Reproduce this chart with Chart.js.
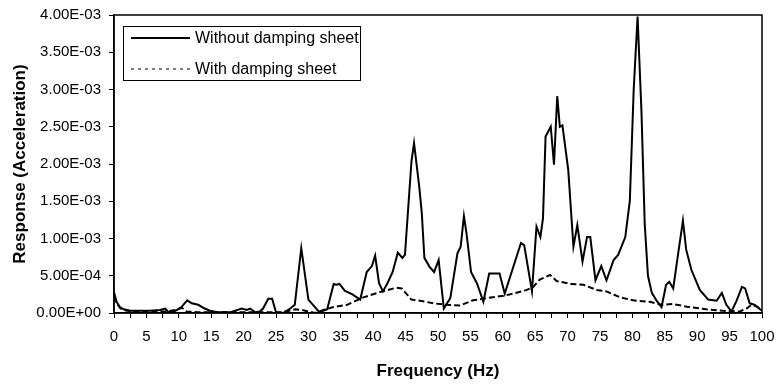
<!DOCTYPE html>
<html>
<head>
<meta charset="utf-8">
<script src="https://cdn.jsdelivr.net/npm/chart.js@4.4.0/dist/chart.umd.min.js"></script>
<style>
  html, body { margin: 0; padding: 0; background: #fff; }
  #wrap { width: 777px; height: 384px; }
</style>
</head>
<body>
<div id="wrap"><canvas id="chart" width="777" height="384"></canvas></div>
<script>
// Without damping sheet (frequency in Hz, response)
const freqWithout = [0, 0.4, 0.9, 1.5, 2.5, 4, 5.5, 7.1, 7.9, 8.4, 9.5, 10.4, 11.3, 12, 13, 14, 14.8, 16, 18, 19.7,
  20.5, 21, 21.8, 22.5, 23, 23.8, 24.4, 25, 26.1, 27.2, 27.9, 28.9, 30, 30.5, 31.7, 32.9, 33.9, 34.3, 34.8, 35.6,
  36.8, 38, 39, 39.8, 40.3, 40.9, 41.5, 42.2, 43, 43.8, 44.5, 44.9, 45.9, 46.3, 47.1, 47.5, 47.9, 48.7, 49.4, 50.1,
  50.9, 51.9, 53, 53.5, 54, 54.4, 55.1, 56, 57, 57.9, 59.5, 60.3, 62.8, 63.3, 64.5, 65.2, 65.8, 66.2, 66.6, 67.4,
  67.9, 68.4, 68.8, 69.2, 70.1, 70.9, 71.5, 72.3, 73, 73.5, 74.3, 75.2, 76, 77.1, 77.8, 78.9, 79.6, 80.2, 80.8, 81.4,
  81.9, 82.4, 83, 83.7, 84.5, 85.2, 85.7, 86.3, 87, 87.8, 88.3, 89.1, 90.4, 91.7, 93, 93.8, 94.5, 95.3, 96.1, 96.9,
  97.4, 98.1, 98.9, 99.7, 100];
const respWithout = [2.8e-4, 1.5e-4, 8e-5, 5e-5, 3e-5, 3e-5, 3e-5, 4e-5, 6e-5, 1e-5, 3e-5, 8e-5, 1.7e-4, 1.3e-4, 1.1e-4, 6e-5, 3e-5, 1e-5, 1e-5, 6e-5,
  4e-5, 6e-5, 1e-5, 2e-5, 6e-5, 1.9e-4, 1.9e-4, 1e-5, 0, 6e-5, 1.1e-4, 8.7e-4, 1.8e-4, 1.3e-4, 1e-5, 5e-5, 3.9e-4, 3.8e-4, 3.9e-4, 3e-4,
  2.5e-4, 1.8e-4, 5.5e-4, 6.3e-4, 7.7e-4, 4e-4, 2.9e-4, 4e-4, 5.5e-4, 8.1e-4, 7.4e-4, 7.8e-4, 2.03e-3, 2.28e-3, 1.7e-3, 1.34e-3, 7.4e-4, 6.2e-4, 5.5e-4, 7.1e-4,
  6e-5, 2e-4, 8e-4, 8.9e-4, 1.3e-3, 1.07e-3, 5.5e-4, 4e-4, 1.5e-4, 5.3e-4, 5.3e-4, 2.6e-4, 9.4e-4, 9.1e-4, 2.9e-4, 1.16e-3, 1.02e-3, 1.27e-3, 2.37e-3, 2.5e-3,
  1.99e-3, 2.91e-3, 2.5e-3, 2.52e-3, 1.92e-3, 8.9e-4, 1.18e-3, 6.9e-4, 1.02e-3, 1.02e-3, 4.4e-4, 6.3e-4, 4.4e-4, 7.1e-4, 7.8e-4, 1.02e-3, 1.5e-3, 3.0e-3, 3.98e-3, 2.7e-3,
  1.2e-3, 5e-4, 2.7e-4, 1.7e-4, 8e-5, 3.8e-4, 4.2e-4, 3.3e-4, 7.6e-4, 1.24e-3, 8.5e-4, 5.8e-4, 3.1e-4, 1.8e-4, 1.65e-4, 2.7e-4, 1.1e-4, 2e-5, 1.7e-4, 3.5e-4,
  3.3e-4, 1.3e-4, 1.1e-4, 5e-5, 3e-5];

// With damping sheet
const freqWith = [0, 0.4, 1, 2, 4, 6, 8, 9.5, 10.5, 11.2, 13, 16, 20, 24, 26, 28, 29, 31, 32.3, 33.9,
  36, 38.5, 41, 43.6, 44.4, 45.9, 47.2, 49.3, 51.3, 53.4, 55.4, 57.5, 60.1, 61.6, 63.7, 64.7, 65.7, 67.3, 68.3, 70.4,
  72.4, 74.5, 76, 78.1, 80.1, 82.7, 84.5, 86.3, 88.4, 91.4, 94, 96.6, 97.6, 98.4, 99.2, 100];
const respWith = [2.2e-4, 1.3e-4, 6e-5, 3e-5, 2e-5, 2e-5, 2e-5, 4e-5, 7e-5, 2e-5, 1e-5, 1e-5, 1e-5, 1e-5, 1e-5, 5e-5, 4e-5, 0, 4e-5, 8e-5,
  1.1e-4, 2.1e-4, 2.8e-4, 3.4e-4, 3.3e-4, 1.8e-4, 1.65e-4, 1.3e-4, 1.1e-4, 1e-4, 1.7e-4, 2e-4, 2.3e-4, 2.6e-4, 3.1e-4, 3.5e-4, 4.5e-4, 5.1e-4, 4.3e-4, 3.9e-4,
  3.8e-4, 3.1e-4, 2.9e-4, 2.1e-4, 1.7e-4, 1.5e-4, 1.1e-4, 1.2e-4, 8.5e-5, 5e-5, 3e-5, 2e-5, 6e-5, 1.1e-4, 8.5e-5, 4e-5];

const seriesLabels = ['Without damping sheet', 'With damping sheet'];

const FONT = 'Arial, "Liberation Sans", sans-serif';

function sciLabel(v) {
    if (v === 0) return '0.00E+00';
    const [m, e] = v.toExponential(2).split('e');
    const n = parseInt(e, 10);
    return m + 'E' + (n < 0 ? '-' : '+') + String(Math.abs(n)).padStart(2, '0');
}

// frame around the plot area
const framePlugin = {
    id: 'frame',
    afterDatasetsDraw(chart) {
        const a = chart.chartArea, ctx = chart.ctx;
        ctx.save();
        ctx.strokeStyle = '#000';
        ctx.lineWidth = 1.5;
        ctx.strokeRect(a.left, a.top, a.right - a.left, a.bottom - a.top);
        ctx.restore();
    }
};

// boxed legend inside the plot, like the original
const boxLegend = {
    id: 'boxLegend',
    afterDraw(chart) {
        const ctx = chart.ctx;
        const x = 123, y = 26, w = 237, h = 54;
        ctx.save();
        ctx.fillStyle = '#fff';
        ctx.fillRect(x, y, w, h);
        ctx.strokeStyle = '#000';
        ctx.lineWidth = 1;
        ctx.strokeRect(x + 0.5, y + 0.5, w, h);
        ctx.font = '16px ' + FONT;
        ctx.textBaseline = 'middle';
        chart.data.datasets.forEach((ds, i) => {
            const ly = y + 12 + i * 31;
            ctx.beginPath();
            ctx.setLineDash(i === 0 ? [] : [3, 4]);
            ctx.lineWidth = i === 0 ? 2 : 1;
            ctx.moveTo(131, ly);
            ctx.lineTo(190, ly);
            ctx.stroke();
            ctx.setLineDash([]);
            ctx.fillStyle = '#000';
            ctx.fillText(ds.label, 195, ly + 1);
        });
        ctx.restore();
    }
};

new Chart(document.getElementById('chart').getContext('2d'), {
    type: 'line',
    data: {
        datasets: [{
            label: seriesLabels[0],
            data: freqWithout.map((f, i) => ({ x: f, y: respWithout[i] })),
            borderColor: '#000',
            borderWidth: 2,
            pointRadius: 0,
            tension: 0,
            fill: false
        }, {
            label: seriesLabels[1],
            data: freqWith.map((f, i) => ({ x: f, y: respWith[i] })),
            borderColor: '#000',
            borderWidth: 2,
            borderDash: [6, 3],
            pointRadius: 0,
            tension: 0,
            fill: false
        }]
    },
    options: {
        responsive: false,
        animation: false,
        layout: { padding: { left: 0, right: 15, top: 15, bottom: 0 } },
        plugins: {
            legend: { display: false },
            title: { display: false },
            tooltip: { enabled: false }
        },
        scales: {
            x: {
                type: 'linear',
                min: 0,
                max: 100,
                afterFit: s => { s.height = 71; s.paddingRight = 12; s.paddingLeft = 0; },
                grid: { drawOnChartArea: false, color: '#000', tickLength: 5, lineWidth: 1 },
                border: { color: '#000', width: 1.5 },
                ticks: {
                    stepSize: 2.5,
                    autoSkip: false,
                    maxRotation: 0,
                    padding: 10,
                    color: '#000',
                    font: { family: FONT, size: 15 },
                    callback: v => (v % 5 === 0 ? String(v) : '')
                },
                title: {
                    display: true,
                    text: 'Frequency (Hz)',
                    color: '#000',
                    font: { family: FONT, size: 17, weight: 'bold' },
                    padding: { top: 10, bottom: 2 }
                }
            },
            y: {
                min: 0,
                max: 0.004,
                afterFit: s => { s.width = 114; s.paddingTop = 0; s.paddingBottom = 0; },
                grid: { drawOnChartArea: false, color: '#000', tickLength: 5, lineWidth: 1 },
                border: { color: '#000', width: 1.5 },
                ticks: {
                    stepSize: 0.0005,
                    padding: 8,
                    color: '#000',
                    font: { family: FONT, size: 15 },
                    callback: v => sciLabel(v)
                },
                title: {
                    display: true,
                    text: 'Response (Acceleration)',
                    color: '#000',
                    font: { family: FONT, size: 17, weight: 'bold' },
                    padding: { top: 10, bottom: 0 }
                }
            }
        }
    },
    plugins: [framePlugin, boxLegend]
});
</script>
</body>
</html>
